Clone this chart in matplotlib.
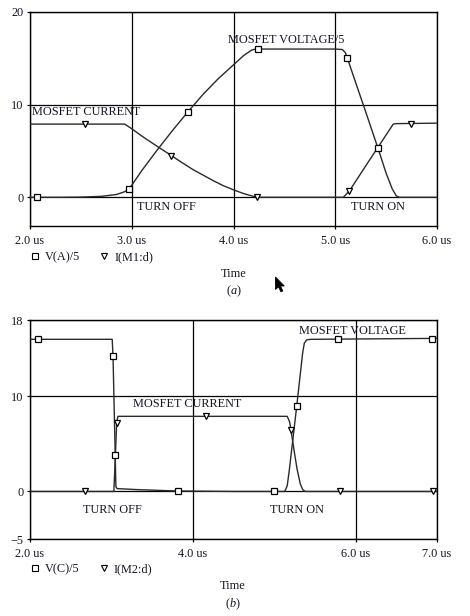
import matplotlib
matplotlib.use("Agg")
import matplotlib.pyplot as plt
from matplotlib.lines import Line2D
from matplotlib.patches import Polygon

plt.rcParams["font.family"] = ["Liberation Serif", "DejaVu Serif"]
plt.rcParams["font.size"] = 8.8
plt.rcParams["mathtext.fontset"] = "custom"
plt.rcParams["mathtext.it"] = "Liberation Serif:italic"
plt.rcParams["mathtext.rm"] = "Liberation Serif"

# ---- panel (a): turn-off / turn-on, 2..6 us ----
va_t = [2.0, 2.3, 2.5, 2.7, 2.85, 2.93, 2.97, 3.0, 3.1, 3.25, 3.4, 3.55, 3.7, 3.85, 4.0, 4.1,
        4.18, 4.22, 4.5, 5.0, 5.07, 5.1, 5.12, 5.2, 5.3, 5.42, 5.5, 5.56, 5.6, 5.63, 6.0]
va_v = [0.0, 0.0, 0.02, 0.1, 0.3, 0.6, 0.86, 1.3, 2.9, 5.1, 7.2, 9.2, 11.1, 12.8, 14.3, 15.3,
        15.9, 16.0, 16.0, 16.0, 15.95, 15.6, 15.0, 12.4, 9.2, 5.3, 2.6, 0.9, 0.15, 0.0, 0.0]
ia_t = [2.0, 2.93, 3.0, 3.1, 3.25, 3.39, 3.5, 3.6, 3.7, 3.8, 3.9, 4.0, 4.1, 4.2, 4.25,
        5.08, 5.14, 5.3, 5.45, 5.57, 5.6, 6.0]
ia_v = [7.9, 7.9, 7.4, 6.6, 5.5, 4.5, 3.7, 3.0, 2.4, 1.8, 1.25, 0.8, 0.4, 0.08, 0.0,
        0.0, 0.7, 3.4, 5.9, 7.9, 7.95, 8.0]
va_mark_t = [2.07, 2.97, 3.55, 4.24, 5.12, 5.42]
va_mark_v = [0.0, 0.86, 9.2, 16.0, 15.0, 5.3]
ia_mark_t = [2.54, 3.39, 4.23, 5.14, 5.74]
ia_mark_v = [7.9, 4.5, 0.0, 0.7, 7.95]
a_xticks = [2.0, 3.0, 4.0, 5.0, 6.0]
a_yticks = [0, 10, 20]

# ---- panel (b): 2..7 us ----
vb_t = [2.0, 3.01, 3.02, 3.047, 3.055, 3.07, 3.3, 3.8, 4.5, 5.13, 5.16, 5.185, 5.277,
        5.35, 5.37, 5.4, 5.45, 7.0]
vb_v = [16.0, 16.0, 14.2, 3.8, 0.5, 0.3, 0.2, 0.05, 0.0, 0.0, 0.6, 2.2, 9.0,
        14.6, 15.6, 15.95, 16.0, 16.1]
ib_t = [2.0, 3.03, 3.04, 3.065, 3.08, 5.16, 5.19, 5.205, 5.25, 5.28, 5.32, 5.35, 5.38, 7.0]
ib_v = [0.0, 0.0, 2.0, 7.2, 7.9, 7.9, 7.3, 6.5, 4.0, 2.4, 0.8, 0.2, 0.0, 0.0]
vb_mark_t = [2.10, 3.02, 3.047, 3.82, 5.0, 5.277, 5.78, 6.94]
vb_mark_v = [16.0, 14.2, 3.8, 0.0, 0.0, 9.0, 16.0, 16.05]
ib_mark_t = [2.68, 3.065, 4.16, 5.205, 5.81, 6.95]
ib_mark_v = [0.0, 7.2, 7.9, 6.5, 0.0, 0.0]
b_xticks = [2.0, 4.0, 6.0, 7.0]
b_yticks = [-5, 0, 10, 18]

W, H = 470, 616
fig = plt.figure(figsize=(W / 100, H / 100), dpi=100)
fig.patch.set_facecolor("white")

LINE = "#2a2a2a"
TXT = "#151525"


def setup_axes(ax, xlim, ylim, xticks, yticks):
    ax.set_xlim(*xlim)
    ax.set_ylim(*ylim)
    ax.set_xticks(xticks)
    ax.set_xticklabels([f"{t:.1f} us" for t in xticks])
    ax.set_yticks(yticks)
    ax.grid(True, color="black", linewidth=0.9)
    ax.set_axisbelow(True)
    for spine in ax.spines.values():
        spine.set_linewidth(1.0)
    ax.tick_params(direction="out", length=2.5, width=0.9, pad=4, colors="black",
                   labelcolor=TXT)
    ax.tick_params(axis="y", pad=2)


def draw_series(ax, t, v, mt, mv, marker, ms):
    ax.plot(t, v, color=LINE, linewidth=1.0, zorder=3)
    ax.plot(mt, mv, linestyle="none", marker=marker, markersize=ms,
            markerfacecolor="white", markeredgecolor="black", markeredgewidth=0.9, zorder=4)


def add_legend(ax, labels, y):
    handles = [
        Line2D([], [], linestyle="none", marker="s", markersize=4, markerfacecolor="white",
               markeredgecolor="black", markeredgewidth=0.8),
        Line2D([], [], linestyle="none", marker="v", markersize=4, markerfacecolor="white",
               markeredgecolor="black", markeredgewidth=0.8),
    ]
    leg = ax.legend(handles, labels, loc="upper left", bbox_to_anchor=(0.0, y), ncol=2,
                    frameon=False, borderpad=0, borderaxespad=0, handlelength=0.8,
                    handletextpad=0.4, columnspacing=1.6)
    for t in leg.get_texts():
        t.set_color(TXT)


# panel (a)
ax1 = fig.add_axes([30 / W, 1 - 226 / H, 407 / W, 214 / H])
setup_axes(ax1, (2.0, 6.0), (-3.1, 20), a_xticks, a_yticks)
draw_series(ax1, va_t, va_v, va_mark_t, va_mark_v, "s", 4.5)
draw_series(ax1, ia_t, ia_v, ia_mark_t, ia_mark_v, "v", 4.5)
ax1.text(3.95, 17.0, "MOSFET VOLTAGE/5", va="center", ha="left", color=TXT)
ax1.text(2.02, 9.2, "MOSFET CURRENT", va="center", ha="left", color=TXT)
ax1.text(3.05, -1.05, "TURN OFF", va="center", ha="left", color=TXT)
ax1.text(5.15, -1.05, "TURN ON", va="center", ha="left", color=TXT)
add_legend(ax1, ["V(A)/5", "I(M1:d)"], -0.118)
fig.text(234 / W, 1 - 274 / H, "Time", ha="center", va="center", color=TXT)
fig.text(234 / W, 1 - 291 / H, "($a$)", ha="center", va="center", color=TXT)

# mouse pointer left in the screenshot
px, py = 275.5, 277.0
shape = [(0, 0), (0, 12.5), (3, 9.8), (5.4, 14.8), (7.3, 14.0), (5.0, 9.0), (8.8, 9.0)]
fig.patches.append(Polygon([((px + dx) / W, 1 - (py + dy) / H) for dx, dy in shape],
                           closed=True, facecolor="black", edgecolor="black", linewidth=0.6,
                           transform=fig.transFigure, figure=fig))

# panel (b)
ax2 = fig.add_axes([30 / W, 1 - 539 / H, 407 / W, 218.7 / H])
setup_axes(ax2, (2.0, 7.0), (-5, 18), b_xticks, b_yticks)
draw_series(ax2, vb_t, vb_v, vb_mark_t, vb_mark_v, "s", 4.5)
draw_series(ax2, ib_t, ib_v, ib_mark_t, ib_mark_v, "v", 4.5)
ax2.text(5.30, 16.9, "MOSFET VOLTAGE", va="center", ha="left", color=TXT)
ax2.text(3.27, 9.15, "MOSFET CURRENT", va="center", ha="left", color=TXT)
ax2.text(2.65, -1.9, "TURN OFF", va="center", ha="left", color=TXT)
ax2.text(4.95, -1.9, "TURN ON", va="center", ha="left", color=TXT)
add_legend(ax2, ["V(C)/5", "I(M2:d)"], -0.11)
fig.text(233 / W, 1 - 586 / H, "Time", ha="center", va="center", color=TXT)
fig.text(233 / W, 1 - 604 / H, "($b$)", ha="center", va="center", color=TXT)

fig.savefig("out.png", dpi=100, facecolor=fig.get_facecolor())
